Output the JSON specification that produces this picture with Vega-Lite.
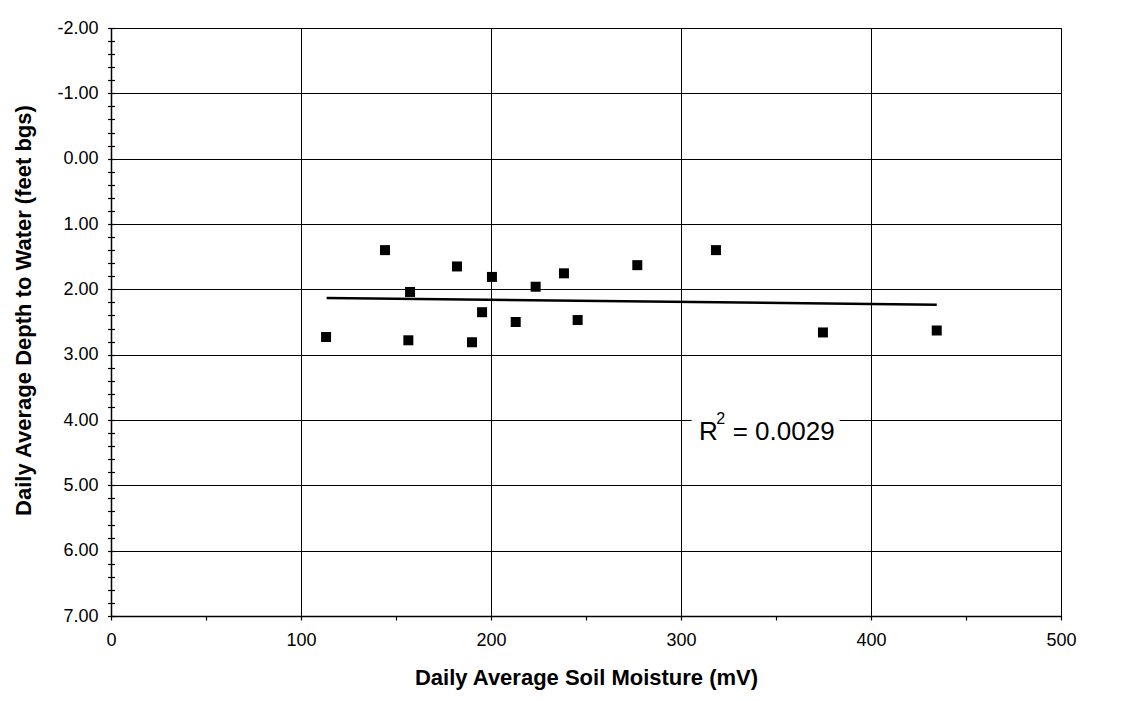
{
  "$schema": "https://vega.github.io/schema/vega-lite/v6.json",
  "autosize": {"type": "none"},
  "padding": {"left": 111, "top": 28, "right": 72, "bottom": 85},
  "width": 950,
  "height": 588,
  "background": "white",
  "config": {
    "font": "Liberation Sans",
    "view": {"stroke": "#000", "strokeWidth": 1},
    "axis": {
      "labelFont": "Liberation Sans",
      "labelFontSize": 18,
      "labelColor": "#000",
      "labelOverlap": false,
      "titleFont": "Liberation Sans",
      "titleFontSize": 22,
      "titleFontWeight": "bold",
      "titleColor": "#000",
      "domainColor": "#000",
      "domainWidth": 1.5,
      "tickColor": "#000",
      "tickWidth": 1.2,
      "gridColor": "#000",
      "gridWidth": 1
    }
  },
  "resolve": {"axis": {"y": "independent"}},
  "datasets": {
    "points": [
      {"moisture": 113.2, "depth": 2.73},
      {"moisture": 144.2, "depth": 1.40},
      {"moisture": 157.4, "depth": 2.04},
      {"moisture": 156.5, "depth": 2.78},
      {"moisture": 182.1, "depth": 1.65},
      {"moisture": 190.0, "depth": 2.81},
      {"moisture": 195.3, "depth": 2.35},
      {"moisture": 200.5, "depth": 1.81},
      {"moisture": 213.0, "depth": 2.50},
      {"moisture": 223.5, "depth": 1.96},
      {"moisture": 238.4, "depth": 1.755},
      {"moisture": 245.6, "depth": 2.47},
      {"moisture": 277.0, "depth": 1.63},
      {"moisture": 318.4, "depth": 1.40},
      {"moisture": 374.7, "depth": 2.66},
      {"moisture": 434.6, "depth": 2.63}
    ],
    "trend": [
      {"moisture": 113.5, "depth": 2.133},
      {"moisture": 434.6, "depth": 2.235}
    ],
    "box": [
      {"x1": 305.6, "x2": 383.5, "y1": 3.9, "y2": 4.3}
    ],
    "label": [
      {"x": 309.5, "y": 4.30, "text": "R", "size": "big"},
      {"x": 318.6, "y": 4.06, "text": "2", "size": "small"},
      {"x": 327.2, "y": 4.30, "text": "= 0.0029", "size": "big"}
    ]
  },
  "layer": [
    {
      "data": {"name": "points"},
      "mark": {"type": "point", "shape": "square", "filled": true, "color": "#000", "size": 100, "opacity": 1},
      "encoding": {
        "x": {
          "field": "moisture", "type": "quantitative",
          "scale": {"domain": [0, 500], "nice": false, "zero": false},
          "axis": {
            "title": "Daily Average Soil Moisture (mV)",
            "values": [0, 50, 100, 150, 200, 250, 300, 350, 400, 450, 500],
            "labelExpr": "datum.value % 100 == 0 ? format(datum.value, 'd') : ''",
            "gridOpacity": {"condition": {"test": "datum.value % 100 == 0", "value": 1}, "value": 0},
            "tickSize": 4,
            "labelPadding": 11,
            "titlePadding": 18,
            "labelFlush": false
          }
        },
        "y": {
          "field": "depth", "type": "quantitative",
          "scale": {"domain": [-2, 7], "reverse": true, "nice": false, "zero": false},
          "axis": {
            "orient": "left",
            "title": "Daily Average Depth to Water (feet bgs)",
            "titleY": 282,
            "values": [-2, -1, 0, 1, 2, 3, 4, 5, 6, 7],
            "labelExpr": "replace(format(datum.value, '.2f'), '\u2212', '-')",
            "ticks": false,
            "labelPadding": 13,
            "titlePadding": 21,
            "labelFlush": false
          }
        }
      }
    },
    {
      "data": {"name": "trend"},
      "mark": {"type": "line", "color": "#000", "strokeWidth": 2.5},
      "encoding": {
        "x": {"field": "moisture", "type": "quantitative"},
        "y": {"field": "depth", "type": "quantitative", "axis": null}
      }
    },
    {
      "data": {"name": "box"},
      "mark": {"type": "rect", "color": "white", "opacity": 1},
      "encoding": {
        "x": {"field": "x1", "type": "quantitative"},
        "x2": {"field": "x2"},
        "y": {
          "field": "y1", "type": "quantitative",
          "axis": {
            "orient": "left",
            "title": null,
            "values": [-2, -1.8, -1.6, -1.4, -1.2, -1, -0.8, -0.6, -0.4, -0.2, 0, 0.2, 0.4, 0.6, 0.8, 1, 1.2, 1.4, 1.6, 1.8, 2, 2.2, 2.4, 2.6, 2.8, 3, 3.2, 3.4, 3.6, 3.8, 4, 4.2, 4.4, 4.6, 4.8, 5, 5.2, 5.4, 5.6, 5.8, 6, 6.2, 6.4, 6.6, 6.8, 7],
            "labels": false,
            "grid": false,
            "domain": false,
            "tickSize": 7,
            "offset": -3.5
          }
        },
        "y2": {"field": "y2"}
      }
    },
    {
      "data": {"name": "label"},
      "mark": {"type": "text", "align": "left", "baseline": "alphabetic", "font": "Liberation Sans", "color": "#000"},
      "encoding": {
        "x": {"field": "x", "type": "quantitative"},
        "y": {"field": "y", "type": "quantitative", "axis": null},
        "text": {"field": "text"},
        "size": {
          "field": "size", "type": "nominal",
          "scale": {"domain": ["big", "small"], "range": [26, 16]},
          "legend": null
        }
      }
    }
  ]
}
